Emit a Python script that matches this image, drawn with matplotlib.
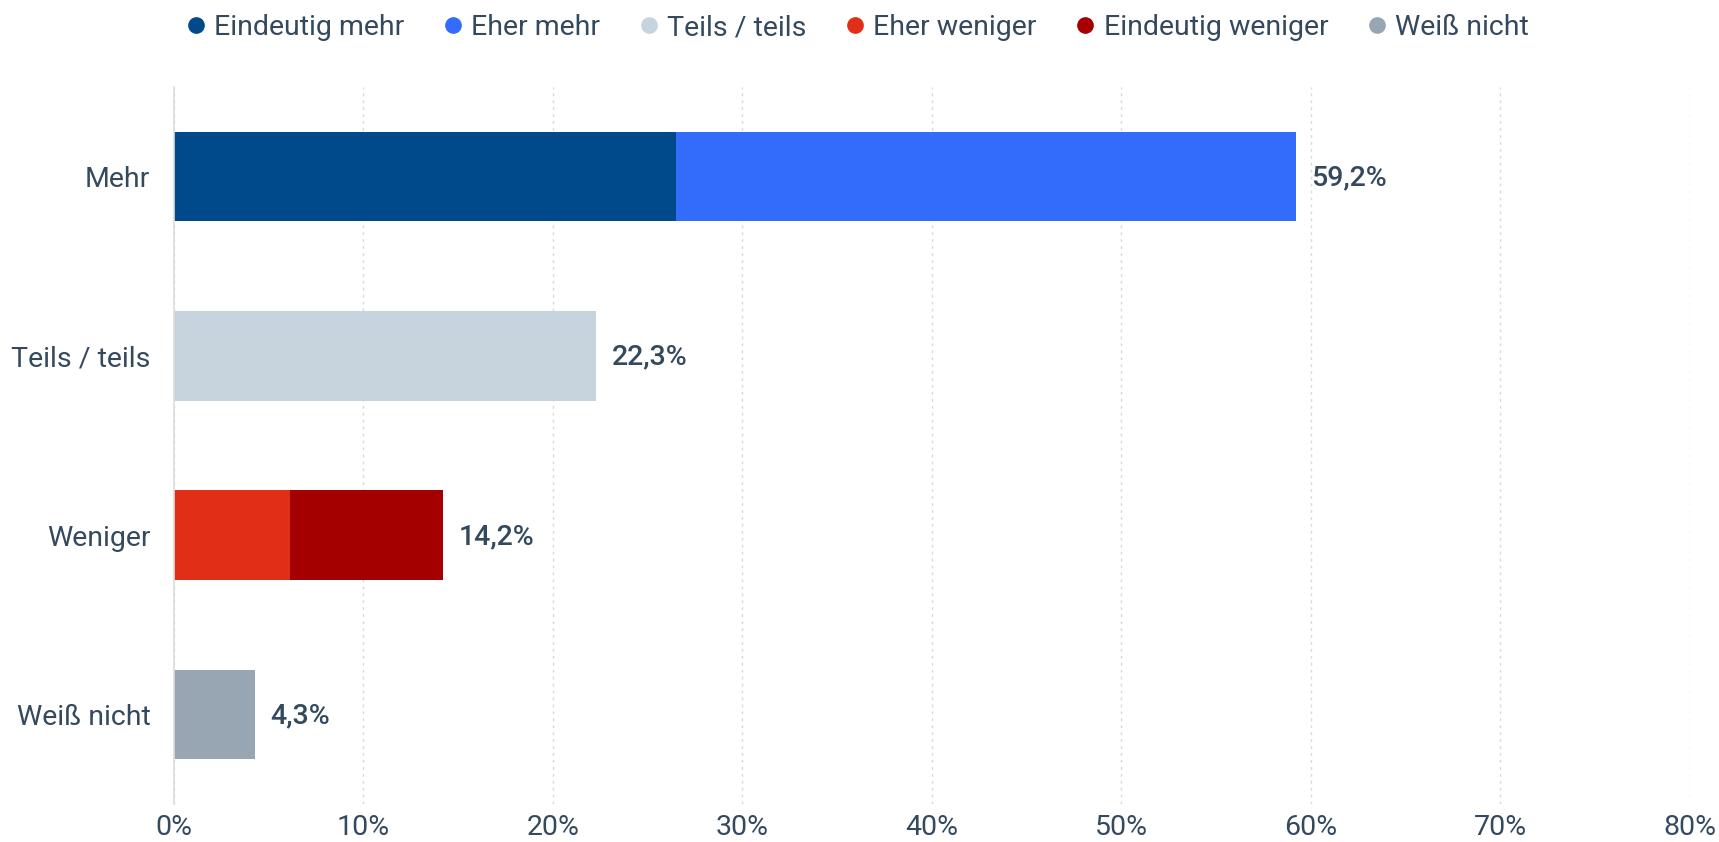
import matplotlib
matplotlib.use("Agg")
import matplotlib.pyplot as plt
from matplotlib.ticker import FuncFormatter
from matplotlib.lines import Line2D

plt.rcParams['font.family'] = ['Roboto', 'DejaVu Sans']

categories = ["Mehr", "Teils / teils", "Weniger", "Weiß nicht"]
series_names = ["Eindeutig mehr", "Eher mehr", "Teils / teils",
                "Eher weniger", "Eindeutig weniger", "Weiß nicht"]
# values per series for each category (percent)
eindeutig_mehr = [26.5, 0, 0, 0]
eher_mehr = [32.7, 0, 0, 0]
teils_teils = [0, 22.3, 0, 0]
eher_weniger = [0, 0, 6.1, 0]
eindeutig_weniger = [0, 0, 8.1, 0]
weiss_nicht = [0, 0, 0, 4.3]
totals = [59.2, 22.3, 14.2, 4.3]
total_labels = ["59,2%", "22,3%", "14,2%", "4,3%"]
x_ticks = [0, 10, 20, 30, 40, 50, 60, 70, 80]

colors = ["#004a8c", "#336cfb", "#c8d4dd", "#e02f16", "#a50000", "#97a6b2"]
text_color = "#34495e"
fs = 20.5

series = [eindeutig_mehr, eher_mehr, teils_teils, eher_weniger,
          eindeutig_weniger, weiss_nicht]

fig = plt.figure(figsize=(17.19, 8.42), dpi=100)
ax = fig.add_axes([0.1012, 0.0451, 0.8818, 0.8516])

ypos = list(range(len(categories)))
left = [0.0] * len(categories)
for vals, col in zip(series, colors):
    ax.barh(ypos, vals, left=left, height=0.5, color=col, linewidth=0, zorder=3)
    left = [l + v for l, v in zip(left, vals)]

for y, t, lab in zip(ypos, totals, total_labels):
    ax.annotate(lab, xy=(t, y), xytext=(11, -1), textcoords="offset points",
                va="center", ha="left", fontsize=fs, fontweight="medium",
                color=text_color)

ax.set_ylim(3.5, -0.5)
ax.set_xlim(0, 80)
ax.set_yticks(ypos)
ax.set_yticklabels(categories)
ax.set_xticks(x_ticks)
ax.xaxis.set_major_formatter(FuncFormatter(lambda v, p: f"{int(v)}%"))
ax.tick_params(axis="both", length=0, labelsize=fs, labelcolor=text_color)
ax.tick_params(axis="y", pad=17)
ax.tick_params(axis="x", pad=7)

ax.xaxis.grid(True, linestyle=(0, (2, 3)), color="#d9d9d9", linewidth=1, zorder=0)
ax.yaxis.grid(False)
for s in ["top", "right", "bottom"]:
    ax.spines[s].set_visible(False)
ax.spines["left"].set_color("#dddddd")
ax.spines["left"].set_linewidth(1.2)
ax.spines["left"].set_zorder(4)

handles = [Line2D([0], [0], marker="o", linestyle="", markersize=11,
                  markerfacecolor=c, markeredgecolor=c) for c in colors]
fig.legend(handles, series_names, loc="center", bbox_to_anchor=(0.4975, 0.967),
           ncol=6, frameon=False, fontsize=fs, handletextpad=0.15,
           columnspacing=1.2, labelcolor=text_color, handlelength=1.0)

fig.savefig("out.png", dpi=100)
